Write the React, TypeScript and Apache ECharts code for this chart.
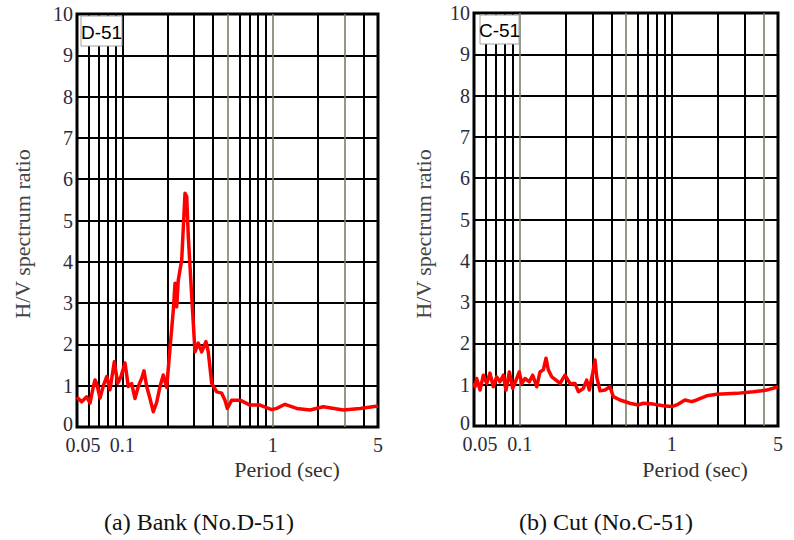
import React, { useEffect, useRef } from "react";
import * as echarts from "echarts";

// ---- data ----
const bankPeriod = [0.05, 0.0537, 0.058, 0.061, 0.0642, 0.0659, 0.0676, 0.0711, 0.0748, 0.0788, 0.0828, 0.0885, 0.0932, 0.098, 0.1042, 0.1096, 0.1154, 0.1214, 0.1277, 0.1346, 0.1394, 0.1452, 0.1527, 0.1607, 0.1693, 0.178, 0.1872, 0.1972, 0.2074, 0.2182, 0.224, 0.2298, 0.2355, 0.2481, 0.261, 0.2679, 0.2745, 0.2892, 0.3041, 0.3198, 0.3369, 0.3597, 0.3726, 0.3926, 0.4238, 0.4576, 0.4812, 0.4985, 0.533, 0.6055, 0.7056, 0.822, 0.983, 1.061, 1.205, 1.441, 1.767, 2.165, 2.94, 3.8, 5.0];
const bankRatio = [0.72, 0.61, 0.73, 0.58, 0.98, 1.14, 1.05, 0.7, 1.0, 1.22, 0.9, 1.58, 1.06, 1.22, 1.55, 0.98, 1.05, 0.69, 0.98, 1.18, 1.36, 0.98, 0.69, 0.37, 0.6, 0.98, 1.26, 0.96, 1.9, 2.83, 3.48, 2.91, 3.56, 4.04, 5.66, 5.58, 4.61, 3.16, 1.82, 2.03, 1.82, 2.07, 1.82, 1.06, 0.85, 0.82, 0.65, 0.45, 0.65, 0.65, 0.53, 0.53, 0.42, 0.45, 0.55, 0.45, 0.41, 0.49, 0.41, 0.45, 0.51];

const cutPeriod = [0.05, 0.0508, 0.0521, 0.0548, 0.0576, 0.0606, 0.0637, 0.067, 0.0705, 0.0741, 0.078, 0.0812, 0.0854, 0.0899, 0.0955, 0.0993, 0.103, 0.1083, 0.1156, 0.1216, 0.1293, 0.1359, 0.1429, 0.1489, 0.1541, 0.1622, 0.1732, 0.184, 0.1985, 0.2141, 0.2309, 0.2428, 0.2619, 0.2757, 0.2867, 0.3019, 0.3127, 0.3208, 0.3373, 0.3638, 0.3924, 0.4126, 0.4566, 0.531, 0.6023, 0.65, 0.756, 0.88, 0.999, 1.078, 1.222, 1.353, 1.459, 1.698, 1.976, 2.675, 3.44, 4.21, 5.0];
const cutRatio = [1.05, 0.95, 1.15, 0.87, 1.23, 1.03, 1.28, 0.95, 1.19, 1.07, 1.23, 0.87, 1.31, 0.91, 1.15, 1.31, 1.03, 1.15, 1.07, 1.23, 0.95, 1.31, 1.36, 1.64, 1.36, 1.19, 1.11, 1.03, 1.23, 1.03, 1.03, 0.83, 0.91, 1.11, 0.87, 1.28, 1.6, 1.19, 0.85, 0.87, 0.95, 0.71, 0.63, 0.55, 0.51, 0.55, 0.53, 0.49, 0.47, 0.51, 0.63, 0.59, 0.63, 0.73, 0.77, 0.79, 0.83, 0.87, 0.95];

const gridPeriods = [0.06, 0.07, 0.08, 0.09, 0.1, 0.2, 0.3, 0.4, 0.5, 0.6, 0.7, 0.8, 0.9, 1, 2, 3, 4];
const bankGrayPeriods = [0.5, 1, 3];
const cutGrayPeriods = [0.1, 0.5, 4];
const xTickLabels = ["0.05", "0.1", "1", "5"];
const yMin = 0;
const yMax = 10;
const yStep = 1;

const panelNames = ["D-51", "C-51"];
const panelTitles = ["(a) Bank (No.D-51)", "(b) Cut (No.C-51)"];
const yName = "H/V spectrum ratio";
const xName = "Period (sec)";

const SERIF = "'Liberation Serif', 'Times New Roman', serif";
const NARROW = "'Liberation Sans Narrow', 'Liberation Sans', Arial, sans-serif";
const TICK_COLOR = "#2b2b3b";

export default function App() {
  const ref = useRef<HTMLDivElement>(null);
  useEffect(() => {
    if (!ref.current) return;
    const chart = echarts.init(ref.current, undefined, { renderer: "svg" });

    const grids = [
      { left: 77, top: 14, width: 301, height: 413 },
      { left: 474, top: 13, width: 304, height: 413 },
    ];
    const labelPos = [
      { x: 81, y: 16, w: 41, h: 30 },
      { x: 480, y: 15, w: 39, h: 29 },
    ];
    const nameX = [287, 695];
    const yNameX = [22, 423];
    const titleX = [199, 606];
    const grays = [bankGrayPeriods, cutGrayPeriods];
    const datas = [
      bankPeriod.map((p, i) => [p, bankRatio[i]]),
      cutPeriod.map((p, i) => [p, cutRatio[i]]),
    ];

    const fmtX = (v: number) => {
      const s = String(+Number(v).toPrecision(3));
      if (!xTickLabels.includes(s)) return "";
      return s === xTickLabels[0] ? "{a|" + s + "}" : s;
    };
    const fmtY = (v: number) => (v === yMin ? "{z|" + v + "}" : String(v));

    const option: any = {
      animation: false,
      backgroundColor: "#fff",
      grid: grids.map((g) => ({
        ...g,
        show: true,
        borderColor: "#000",
        borderWidth: 3,
        backgroundColor: "#fff",
        containLabel: false,
      })),
      xAxis: grids.map((_, i) => ({
        type: "log",
        logBase: 10,
        gridIndex: i,
        min: 0.05,
        max: 5,
        axisLine: { show: false },
        axisTick: { show: false },
        splitLine: { show: false },
        axisLabel: {
          show: true,
          margin: 9,
          color: TICK_COLOR,
          fontFamily: SERIF,
          fontSize: 20,
          lineHeight: 18,
          formatter: fmtX,
          rich: {
            a: { fontFamily: SERIF, fontSize: 20, lineHeight: 18, color: TICK_COLOR, padding: [0, 0, 0, 12] },
          },
          showMinLabel: true,
          showMaxLabel: true,
          hideOverlap: false,
        },
      })),
      yAxis: grids.map((_, i) => ({
        type: "value",
        gridIndex: i,
        min: yMin,
        max: yMax,
        interval: yStep,
        axisLine: { show: false },
        axisTick: { show: false },
        splitLine: { show: true, lineStyle: { color: "#000", width: 2 } },
        axisLabel: {
          margin: 4,
          color: TICK_COLOR,
          fontFamily: SERIF,
          fontSize: 20,
          lineHeight: 18,
          formatter: fmtY,
          rich: {
            z: { fontFamily: SERIF, fontSize: 20, lineHeight: 16, color: TICK_COLOR, padding: [0, 0, 6, 0] },
          },
        },
      })),
      series: [
        ...grids.map((_, i) => ({
          type: "line",
          xAxisIndex: i,
          yAxisIndex: i,
          data: [],
          silent: true,
          z: 1,
          markLine: {
            silent: true,
            symbol: "none",
            z: 1,
            label: { show: false },
            animation: false,
            data: gridPeriods.map((p) => {
              const g = grays[i].includes(p);
              return {
                xAxis: p,
                lineStyle: g
                  ? { color: "#7d7d6a", width: 1.6, type: "solid" }
                  : { color: "#000", width: 2, type: "solid" },
              };
            }),
          },
        })),
        ...grids.map((_, i) => ({
          type: "line",
          xAxisIndex: i,
          yAxisIndex: i,
          data: datas[i],
          showSymbol: false,
          symbol: "none",
          z: 10,
          lineStyle: { color: "#ff0000", width: 3.5, join: "round" },
        })),
      ],
      graphic: [
        ...grids.flatMap((g, i) => [
          {
            type: "rect",
            shape: { x: labelPos[i].x, y: labelPos[i].y, width: labelPos[i].w, height: labelPos[i].h },
            style: { fill: "#fff", stroke: "#a0a0a0", lineWidth: 1 },
            z: 100,
          },
          {
            type: "text",
            x: labelPos[i].x + labelPos[i].w / 2,
            y: labelPos[i].y + labelPos[i].h / 2 + 1,
            style: {
              text: panelNames[i],
              font: "19px " + NARROW,
              fill: "#000",
              textAlign: "center",
              textVerticalAlign: "middle",
            },
            z: 101,
          },
          {
            type: "text",
            x: yNameX[i],
            y: 234,
            rotation: Math.PI / 2,
            style: {
              text: yName,
              font: "22px " + SERIF,
              fill: "#444",
              textAlign: "center",
              textVerticalAlign: "middle",
            },
          },
          {
            type: "text",
            x: nameX[i],
            y: 469,
            style: {
              text: xName,
              font: "22px " + SERIF,
              fill: "#333",
              textAlign: "center",
              textVerticalAlign: "middle",
            },
          },
          {
            type: "text",
            x: titleX[i],
            y: 522,
            style: {
              text: panelTitles[i],
              font: "24px " + SERIF,
              fill: "#111",
              textAlign: "center",
              textVerticalAlign: "middle",
            },
          },
        ]),
      ],
    };
    chart.setOption(option);
    return () => chart.dispose();
  }, []);
  return (
    <div
      ref={ref}
      style={{ position: "absolute", left: 0, top: 0, width: 794, height: 540 }}
    />
  );
}
